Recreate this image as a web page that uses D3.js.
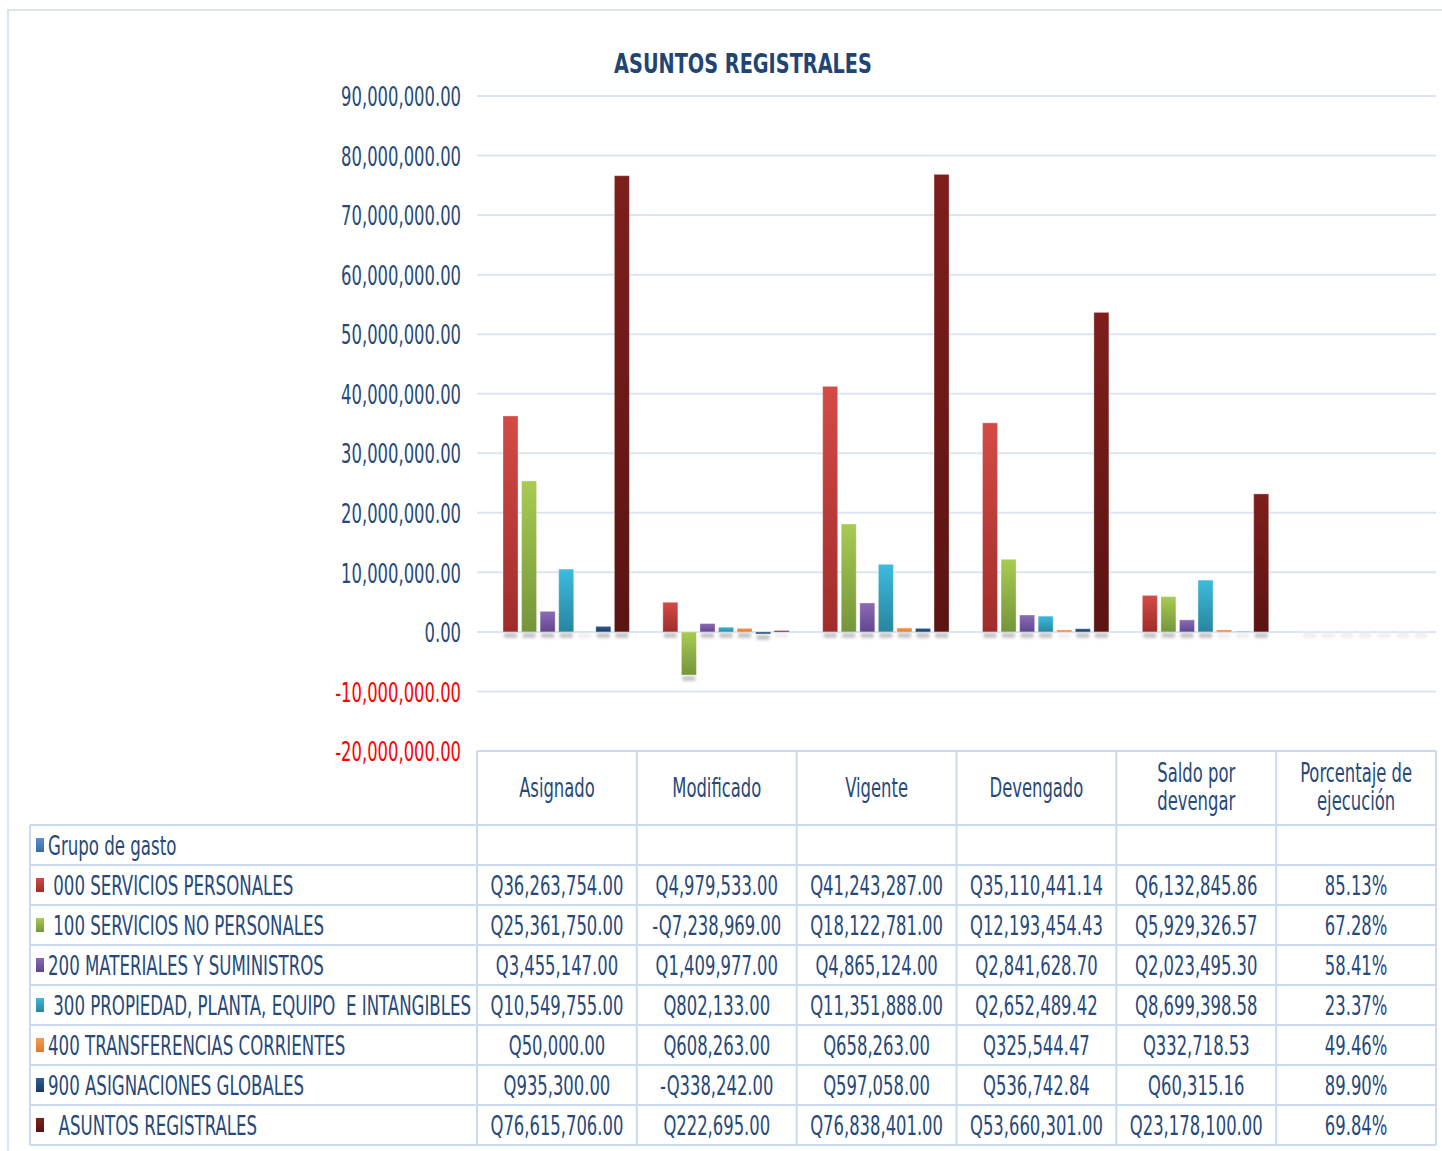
<!DOCTYPE html>
<html>
<head>
<meta charset="utf-8">
<script src="https://cdn.jsdelivr.net/npm/d3@7"></script>
<style>
  body { margin: 0; background: #fff; }
  svg text { font-family: "DejaVu Sans Condensed", "DejaVu Sans", sans-serif; white-space: pre; }
</style>
</head>
<body>
<svg id="chart" width="1442" height="1151"></svg>
<script>
// categorias (columnas de la tabla)
const categories = ['Asignado', 'Modificado', 'Vigente', 'Devengado', 'Saldo por devengar', 'Porcentaje de ejecución'];
const headerLines = [['Asignado'], ['Modificado'], ['Vigente'], ['Devengado'], ['Saldo por', 'devengar'], ['Porcentaje de', 'ejecución']];

// series (filas de la tabla)
const seriesNames = ['Grupo de gasto', ' 000 SERVICIOS PERSONALES', ' 100 SERVICIOS NO PERSONALES', '200 MATERIALES Y SUMINISTROS',
  ' 300 PROPIEDAD, PLANTA, EQUIPO  E INTANGIBLES', '400 TRANSFERENCIAS CORRIENTES', '900 ASIGNACIONES GLOBALES', '  ASUNTOS REGISTRALES'];
const grupo = [null, null, null, null, null, null];
const s000 = [36263754.00, 4979533.00, 41243287.00, 35110441.14, 6132845.86, 0.8513];
const s100 = [25361750.00, -7238969.00, 18122781.00, 12193454.43, 5929326.57, 0.6728];
const s200 = [3455147.00, 1409977.00, 4865124.00, 2841628.70, 2023495.30, 0.5841];
const s300 = [10549755.00, 802133.00, 11351888.00, 2652489.42, 8699398.58, 0.2337];
const s400 = [50000.00, 608263.00, 658263.00, 325544.47, 332718.53, 0.4946];
const s900 = [935300.00, -338242.00, 597058.00, 536742.84, 60315.16, 0.8990];
const sAsuntos = [76615706.00, 222695.00, 76838401.00, 53660301.00, 23178100.00, 0.6984];
const seriesValues = [grupo, s000, s100, s200, s300, s400, s900, sAsuntos];

// colores (arriba claro, abajo oscuro)
const colorsTop = ['#5b8fd0', '#d44b46', '#a8cb52', '#8c6bb6', '#3dbbde', '#fa9a4c', '#2f5c92', '#7e1f1c'];
const colorsBottom = ['#3a6aa8', '#a02c2a', '#75953a', '#624690', '#27859f', '#dc7a2a', '#1b3a63', '#5a1412'];

const yTicks = [-20000000, -10000000, 0, 10000000, 20000000, 30000000, 40000000, 50000000, 60000000, 70000000, 80000000, 90000000];

const TEXT = '#26497a';
const GRID = '#dbe5f2';
const FS = 27;

const locale = d3.formatLocale({ decimal: '.', thousands: ',', grouping: [3], currency: ['Q', ''], minus: '-' });
const fmtNum = locale.format(',.2f');

const svg = d3.select('#chart');
svg.append('rect').attr('width', 1442).attr('height', 1151).attr('fill', '#fff');

// medir el ancho para comprimir el texto como en la imagen
function measure(str, bold) {
  const t = svg.append('text').attr('font-size', FS).attr('font-weight', bold ? 'bold' : 'normal').text(str);
  const w = t.node().getComputedTextLength();
  t.remove();
  return w;
}
const SX = 120 / measure('90,000,000.00');
const SXT = 258 / measure('ASUNTOS REGISTRALES', true);
const SXL = 418 / measure('300 PROPIEDAD, PLANTA, EQUIPO  E INTANGIBLES');

function label(g, x, y, str, anchor, fill, sx) {
  return g.append('text')
    .attr('transform', `translate(${x},${y}) scale(${sx || SX},1)`)
    .attr('font-size', FS)
    .attr('text-anchor', anchor || 'middle')
    .attr('fill', fill || TEXT)
    .text(str);
}

const defs = svg.append('defs');
colorsTop.forEach((c, i) => {
  const gr = defs.append('linearGradient').attr('id', 'grad' + i).attr('x1', 0).attr('y1', 0).attr('x2', 0).attr('y2', 1);
  gr.append('stop').attr('offset', '0%').attr('stop-color', c);
  gr.append('stop').attr('offset', '100%').attr('stop-color', colorsBottom[i]);
});
defs.append('filter').attr('id', 'blur').attr('x', '-50%').attr('y', '-100%').attr('width', '200%').attr('height', '300%')
  .append('feGaussianBlur').attr('stdDeviation', 1.8);

// marco exterior
svg.append('path').attr('d', 'M8,1151 V10 H1442').attr('fill', 'none').attr('stroke', GRID).attr('stroke-width', 2);

// escalas
const x0 = d3.scaleBand().domain(categories).range([477, 1436]);
const x1 = d3.scaleBand().domain(seriesNames).range([0, x0.bandwidth()]).paddingInner(0.19).paddingOuter(0.4);
const y = d3.scaleLinear().domain([-20000000, 90000000]).range([751, 96]);

// titulo
label(svg, 743, 73, 'ASUNTOS REGISTRALES', 'middle', '#1f4573', SXT).attr('font-weight', 'bold');

// lineas de cuadricula
svg.append('g').selectAll('line').data(yTicks).enter().append('line')
  .attr('x1', 477).attr('x2', 1436)
  .attr('y1', (d) => y(d)).attr('y2', (d) => y(d))
  .attr('stroke', GRID).attr('stroke-width', 2);

// eje y
const yAxis = svg.append('g').attr('transform', 'translate(461,0)')
  .call(d3.axisLeft(y).tickValues(yTicks).tickSize(0).tickFormat(fmtNum));
yAxis.select('.domain').remove();
yAxis.selectAll('text')
  .attr('x', 0).attr('dy', '0.36em')
  .attr('transform', `scale(${SX},1)`)
  .attr('font-size', FS)
  .attr('font-family', null)
  .attr('fill', (d) => (d < 0 ? '#ff0000' : TEXT));

// barras
const barData = [];
seriesValues.forEach((vals, si) => {
  vals.forEach((v, ci) => {
    if (v !== null) barData.push({ si: si, cat: categories[ci], name: seriesNames[si], value: v });
  });
});

const bars = svg.append('g');
bars.selectAll('.shadow').data(barData).enter().append('rect')
  .classed('shadow', true)
  .attr('x', (d) => x0(d.cat) + x1(d.name) + 1)
  .attr('y', (d) => y(Math.min(d.value, 0)) + 1)
  .attr('width', x1.bandwidth() - 2)
  .attr('height', 5)
  .attr('fill', '#666')
  .attr('opacity', (d) => (Math.abs(y(d.value) - y(0)) > 2 ? 0.38 : 0.1))
  .attr('filter', 'url(#blur)');

bars.selectAll('.bar').data(barData).enter().append('rect')
  .classed('bar', true)
  .attr('x', (d) => x0(d.cat) + x1(d.name))
  .attr('y', (d) => y(Math.max(d.value, 0)))
  .attr('width', x1.bandwidth())
  .attr('height', (d) => Math.abs(y(d.value) - y(0)))
  .attr('fill', (d) => `url(#grad${d.si})`)
  .attr('stroke', '#fff').attr('stroke-opacity', 0.35).attr('stroke-width', 1);

// tabla de datos
const rows = d3.scaleBand().domain(seriesNames).range([825, 1145]);
const tbl = svg.append('g');
const lineAttrs = (sel) => sel.attr('stroke', '#c9daf0').attr('stroke-width', 2);

// horizontales
tbl.append('line').attr('x1', 477).attr('x2', 1436).attr('y1', 751).attr('y2', 751).call(lineAttrs);
seriesNames.forEach((n) => {
  tbl.append('line').attr('x1', 30).attr('x2', 1436).attr('y1', rows(n)).attr('y2', rows(n)).call(lineAttrs);
});
tbl.append('line').attr('x1', 30).attr('x2', 1436).attr('y1', 1145).attr('y2', 1145).call(lineAttrs);
// verticales
tbl.append('line').attr('x1', 30).attr('x2', 30).attr('y1', 825).attr('y2', 1145).call(lineAttrs);
categories.forEach((c) => {
  tbl.append('line').attr('x1', x0(c)).attr('x2', x0(c)).attr('y1', 751).attr('y2', 1145).call(lineAttrs);
});
tbl.append('line').attr('x1', 1436).attr('x2', 1436).attr('y1', 751).attr('y2', 1145).call(lineAttrs);

// encabezados
headerLines.forEach((lines, i) => {
  const cx = x0(categories[i]) + x0.bandwidth() / 2;
  if (lines.length === 1) {
    label(tbl, cx, 797, lines[0]);
  } else {
    label(tbl, cx, 782, lines[0]);
    label(tbl, cx, 810, lines[1]);
  }
});

// nombres de filas + marcadores
seriesNames.forEach((n, si) => {
  const cy = rows(n) + rows.bandwidth() / 2;
  tbl.append('rect').attr('x', 36).attr('y', cy - 7).attr('width', 8).attr('height', 14)
    .attr('fill', `url(#grad${si})`);
  label(tbl, 48, cy + 10, n, 'start', TEXT, SXL);
});

// valores
const fmtQ = (v) => (v < 0 ? '-Q' : 'Q') + fmtNum(Math.abs(v));
const fmtP = locale.format('.2%');
seriesValues.forEach((vals, si) => {
  const cy = rows(seriesNames[si]) + rows.bandwidth() / 2;
  vals.forEach((v, ci) => {
    if (v === null) return;
    const cx = x0(categories[ci]) + x0.bandwidth() / 2;
    label(tbl, cx, cy + 10, ci === 5 ? fmtP(v) : fmtQ(v));
  });
});
</script>
</body>
</html>
